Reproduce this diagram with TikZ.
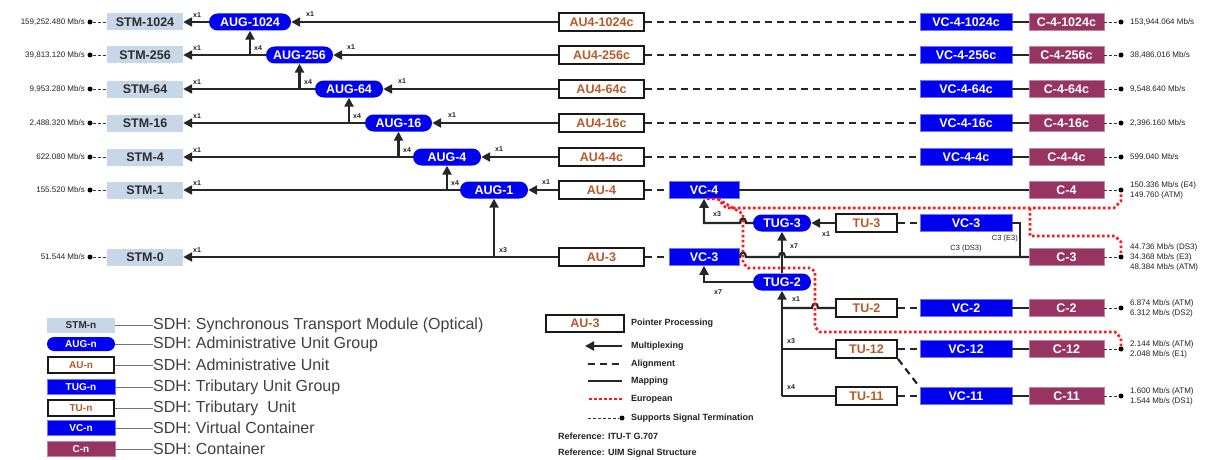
\documentclass[tikz,border=0pt]{standalone}
\usepackage{fontspec}
\setmainfont{Liberation Sans}
\usetikzlibrary{arrows.meta}
\definecolor{stmfill}{HTML}{C8D7E8}
\definecolor{stmtext}{HTML}{2B2B2B}
\definecolor{sdhblue}{HTML}{0000F0}
\definecolor{auor}{HTML}{B85A28}
\definecolor{cmar}{HTML}{983462}
\definecolor{eured}{HTML}{FF1A1A}
\definecolor{lbl}{HTML}{222222}
\definecolor{legt}{HTML}{404040}
\begin{document}
\begin{tikzpicture}[x=1pt,y=-1pt,
  sdhnode/.style={inner sep=0pt, font=\fontsize{12.5}{14}\selectfont\bfseries, minimum height=17pt},
  stmbox/.style={sdhnode, fill=stmfill, text=stmtext, minimum width=76pt},
  augbox/.style={sdhnode, fill=sdhblue, text=white, rounded corners=8.5pt, minimum width=#1},
  augbox/.default=68pt,
  aubox/.style={sdhnode, draw=black!90, line width=2pt, fill=white, text=auor, minimum width=85pt, minimum height=18pt},
  vcbox/.style={sdhnode, fill=sdhblue, draw=blue!55!white, line width=0.6pt, text=white, minimum width=92pt},
  cbox/.style={sdhnode, fill=cmar, draw=cmar!60!white, line width=0.6pt, text=white, minimum width=75pt},
  mux/.style={line width=2.4pt, draw=black!85, -{Triangle[length=9pt,width=9pt]}},
  mapl/.style={line width=2.2pt, draw=black!85},
  alig/.style={line width=2.2pt, draw=black!85, dash pattern=on 7pt off 5pt},
  term/.style={line width=0.9pt, draw=black!80, dash pattern=on 3pt off 2pt},
  eur/.style={line width=2.6pt, draw=eured, dash pattern=on 2.6pt off 2.4pt, line join=round},
  mlab/.style={font=\fontsize{7}{8}\selectfont\bfseries, text=lbl, inner sep=0pt},
  rate/.style={font=\fontsize{8}{10}\selectfont, text=lbl, inner sep=0pt, align=left},
  tdot/.style={circle, fill=black, inner sep=0pt, minimum size=5pt},
  legsmall/.style={font=\fontsize{10}{12}\selectfont\bfseries, minimum width=68pt, minimum height=15pt},
  legtxt/.style={anchor=west, inner sep=0pt, font=\fontsize{16}{18}\selectfont, text=legt},
  legline/.style={line width=1pt, draw=black!55},
  ltxt/.style={anchor=west, inner sep=0pt, font=\fontsize{9}{11}\selectfont\bfseries, text=lbl}
]
\fill[white] (0,0) rectangle (1217,460);
\useasboundingbox (0,0) rectangle (1217,460);

% ---------- STM boxes
\node[stmbox] (stm1024) at (145,22) {STM-1024};
\node[stmbox] (stm256) at (145,55) {STM-256};
\node[stmbox] (stm64) at (145,89) {STM-64};
\node[stmbox] (stm16) at (145,123) {STM-16};
\node[stmbox] (stm4) at (145,157) {STM-4};
\node[stmbox] (stm1) at (145,190) {STM-1};
\node[stmbox] (stm0) at (145,257) {STM-0};

% ---------- AUGs
\node[augbox=82pt] (aug1024) at (250,22) {AUG-1024};
\node[augbox=67pt] (aug256) at (299.5,55) {AUG-256};
\node[augbox=68pt] (aug64) at (349,89) {AUG-64};
\node[augbox=67pt] (aug16) at (398.5,123) {AUG-16};
\node[augbox=68pt] (aug4) at (447,157) {AUG-4};
\node[augbox=68pt] (aug1) at (494,190) {AUG-1};

% ---------- AUs
\node[aubox] (au1024c) at (601.5,22) {AU4-1024c};
\node[aubox] (au256c) at (601.5,55) {AU4-256c};
\node[aubox] (au64c) at (601.5,89) {AU4-64c};
\node[aubox] (au16c) at (601.5,123) {AU4-16c};
\node[aubox] (au4c) at (601.5,157) {AU4-4c};
\node[aubox] (au4) at (601.5,190) {AU-4};
\node[aubox] (au3) at (601.5,257) {AU-3};

% ---------- VCs and Cs
\node[vcbox] (vc1024c) at (966,22) {VC-4-1024c};
\node[vcbox] (vc256c) at (966,55) {VC-4-256c};
\node[vcbox] (vc64c) at (966,89) {VC-4-64c};
\node[vcbox] (vc16c) at (966,123) {VC-4-16c};
\node[vcbox] (vc4c) at (966,157) {VC-4-4c};
\node[cbox] (c1024c) at (1066.5,22) {C-4-1024c};
\node[cbox] (c256c) at (1066.5,55) {C-4-256c};
\node[cbox] (c64c) at (1066.5,89) {C-4-64c};
\node[cbox] (c16c) at (1066.5,123) {C-4-16c};
\node[cbox] (c4c) at (1066.5,157) {C-4-4c};

\node[vcbox, minimum width=70pt] (vc4) at (704,190) {VC-4};
\node[cbox] (c4) at (1066.5,190) {C-4};
\node[vcbox, minimum width=70pt] (vc3l) at (704,257) {VC-3};
\node[cbox] (c3) at (1066.5,257) {C-3};

\node[augbox=58pt] (tug3) at (782,223) {TUG-3};
\node[aubox, minimum width=61pt] (tu3) at (866.5,223) {TU-3};
\node[vcbox] (vc3u) at (966,223) {VC-3};

\node[augbox=58pt] (tug2) at (782,282) {TUG-2};
\node[aubox, minimum width=61pt] (tu2) at (866.5,308) {TU-2};
\node[vcbox] (vc2) at (966,308) {VC-2};
\node[cbox] (c2) at (1066.5,308) {C-2};
\node[aubox, minimum width=61pt] (tu12) at (866.5,349) {TU-12};
\node[vcbox] (vc12) at (966,349) {VC-12};
\node[cbox] (c12) at (1066.5,349) {C-12};
\node[aubox, minimum width=61pt] (tu11) at (866.5,396) {TU-11};
\node[vcbox] (vc11) at (966,396) {VC-11};
\node[cbox] (c11) at (1066.5,396) {C-11};

% ---------- STM <- AUG arrows
\draw[mux] (aug1024.west) -- (stm1024.east);
\draw[mux] (aug256.west) -- (stm256.east);
\draw[mux] (aug64.west) -- (stm64.east);
\draw[mux] (aug16.west) -- (stm16.east);
\draw[mux] (aug4.west) -- (stm4.east);
\draw[mux] (aug1.west) -- (stm1.east);
\draw[mux] (au3.west) -- (stm0.east);
\foreach \yy in {22,55,89,123,157,190,257} \node[mlab] at (197,\yy-7) {x1};

% ---------- AUG <- AU arrows
\draw[mux] (au1024c.west) -- (aug1024.east);
\draw[mux] (au256c.west) -- (aug256.east);
\draw[mux] (au64c.west) -- (aug64.east);
\draw[mux] (au16c.west) -- (aug16.east);
\draw[mux] (au4c.west) -- (aug4.east);
\draw[mux] (au4.west) -- (aug1.east);
\node[mlab] at (310,14) {x1};
\node[mlab] at (351,47) {x1};
\node[mlab] at (402,81) {x1};
\node[mlab] at (452,115) {x1};
\node[mlab] at (499,149) {x1};
\node[mlab] at (546,182) {x1};

% ---------- vertical x4 / x3
\draw[mux] (aug1024.south |- stm256.center) -- (aug1024.south);
\draw[mux] (aug256.south |- stm64.center) -- (aug256.south);
\draw[mux] (aug64.south |- stm16.center) -- (aug64.south);
\draw[mux] (aug16.south |- stm4.center) -- (aug16.south);
\draw[mux] (aug4.south |- stm1.center) -- (aug4.south);
\draw[mux] (aug1.south |- stm0.center) -- (aug1.south);
\node[mlab] at (258,48) {x4};
\node[mlab] at (308,82) {x4};
\node[mlab] at (357,116) {x4};
\node[mlab] at (407,150) {x4};
\node[mlab] at (455,183) {x4};
\node[mlab] at (503,250) {x3};

% ---------- alignment / mapping
\draw[alig] (au1024c.east) -- (vc1024c.west);
\draw[alig] (au256c.east) -- (vc256c.west);
\draw[alig] (au64c.east) -- (vc64c.west);
\draw[alig] (au16c.east) -- (vc16c.west);
\draw[alig] (au4c.east) -- (vc4c.west);
\draw[alig] (au4.east) -- (vc4.west);
\draw[alig] (au3.east) -- (vc3l.west);
\draw[alig] (tu3.east) -- (vc3u.west);
\draw[alig] (tu2.east) -- (vc2.west);
\draw[alig] (tu12.east) -- (vc12.west);
\draw[alig] (tu11.east) -- (vc11.west);
\draw[alig] (tu12.south east) -- (vc11.north west);
\draw[mapl] (vc1024c.east) -- (c1024c.west);
\draw[mapl] (vc256c.east) -- (c256c.west);
\draw[mapl] (vc64c.east) -- (c64c.west);
\draw[mapl] (vc16c.east) -- (c16c.west);
\draw[mapl] (vc4c.east) -- (c4c.west);
\draw[mapl] (vc4.east) -- (c4.west);
\draw[mapl] (vc2.east) -- (c2.west);
\draw[mapl] (vc12.east) -- (c12.west);
\draw[mapl] (vc11.east) -- (c11.west);
\draw[mapl] (vc3l.east) -- (740,257) .. controls (740,251) and (746,251) .. (746,257)
   -- (779,257) .. controls (779,251) and (785,251) .. (785,257) -- (c3.west);
\draw[mapl] (vc3u.east) -- (1020,223) -- (1020,257) -- (c3.west);
\node[mlab, font=\fontsize{7.5}{9}\selectfont, anchor=east] at (1018,239) {C3 (E3)};
\node[mlab, font=\fontsize{7.5}{9}\selectfont] at (966,249) {C3 (DS3)};

% ---------- TUG structure
\draw[mux] (tu3.west) -- (tug3.east);
\node[mlab] at (826,234) {x1};
\draw[mux] (tug3.west) -- (746,223) .. controls (746,217) and (740,217) .. (740,223)
   -- (vc4.south |- tug3.west) -- (vc4.south);
\node[mlab] at (717,214) {x3};
\draw[mux] (tug2.west) -- (vc3l.south |- tug2.west) -- (vc3l.south);
\node[mlab] at (718,292) {x7};
\draw[mux] (tug2.north) -- (tug3.south);
\node[mlab] at (794,246) {x7};
\draw[mux] (tug2.south |- tu11.west) -- (tug2.south);
\draw[mapl] (tug2.south |- tu2.west) -- (812,308) .. controls (812,302) and (818,302) .. (818,308) -- (tu2.west);
\draw[mapl] (tug2.south |- tu12.west) -- (tu12.west);
\draw[mapl] (tug2.south |- tu11.west) -- (tu11.west);
\node[mlab] at (796,299) {x1};
\node[mlab] at (791,341) {x3};
\node[mlab] at (791,387) {x4};

% ---------- termination (left)
\foreach \nm/\yy/\txt in {1024/22/{159,252.480 Mb/s},256/55/{39,813.120 Mb/s},64/89/{9,953.280 Mb/s},16/123/{2,488.320 Mb/s},4/157/{622.080 Mb/s},1/190/{155.520 Mb/s},0/257/{51.544 Mb/s}}{
  \node[tdot] (ld\nm) at (90,\yy) {};
  \draw[term] (ld\nm) -- (stm\nm.west);
  \node[rate, anchor=east] at (85,\yy) {\txt};
}

% ---------- termination (right)
\foreach \nm/\yy/\txt in {1024c/22/{153,944.064 Mb/s},256c/55/{38,486.016 Mb/s},64c/89/{9,548.640 Mb/s},16c/123/{2,396.160 Mb/s},4c/157/{599.040 Mb/s},4/190/{150.336 Mb/s (E4)\\149.760 (ATM)},3/257/{44.736 Mb/s (DS3)\\34.368 Mb/s (E3)\\48.384 Mb/s (ATM)},2/308/{6.874 Mb/s (ATM)\\6.312 Mb/s (DS2)},12/349/{2.144 Mb/s (ATM)\\2.048 Mb/s (E1)},11/396/{1.600 Mb/s (ATM)\\1.544 Mb/s (DS1)}}{
  \node[tdot] (rd\nm) at (1121,\yy) {};
  \draw[term] (c\nm.east) -- (rd\nm);
  \node[rate, anchor=west] at (1130,\yy) {\txt};
}

% ---------- European paths
\draw[eur] (vc4.south -| 707,0) -- (718,199) -- (726,208) -- (1114,208) -- (1121,201) -- (rd4.south);
\draw[eur] (718,199) -- (743,214) -- (743,263) -- (748,268) -- (811,268) -- (815,272)
   -- (815,327) -- (820,332) -- (1115,332) -- (1121,338) -- (rd12.north);
\draw[eur] (1030,208) -- (1030,236) -- (1115,236) -- (1121,242) -- (rd3.north);

% ---------- Legend 1
\node[stmbox, legsmall] (lstm) at (81,325) {STM-n};
\node[augbox=68pt, legsmall, minimum height=14pt, rounded corners=7pt] (laug) at (81,344) {AUG-n};
\node[aubox, legsmall, minimum width=66pt, minimum height=16pt] (lau) at (81,365) {AU-n};
\node[vcbox, legsmall] (ltug) at (81,387) {TUG-n};
\node[aubox, legsmall, minimum width=66pt, minimum height=16pt] (ltu) at (81,408) {TU-n};
\node[vcbox, legsmall] (lvc) at (81,428) {VC-n};
\node[cbox, legsmall] (lc) at (81,449) {C-n};
\node[legtxt] (tstm) at (153,325) {SDH: Synchronous Transport Module (Optical)};
\node[legtxt] (taug) at (153,344) {SDH: Administrative Unit Group};
\node[legtxt] (tau) at (153,365) {SDH: Administrative Unit};
\node[legtxt] (ttug) at (153,387) {SDH: Tributary Unit Group};
\node[legtxt] (ttu) at (153,408) {SDH: Tributary\ \ Unit};
\node[legtxt] (tvc) at (153,428) {SDH: Virtual Container};
\node[legtxt] (tc) at (153,449) {SDH: Container};
\foreach \a/\b in {lstm/tstm,laug/taug,lau/tau,ltug/ttug,ltu/ttu,lvc/tvc,lc/tc}
  \draw[legline] (\a.east) -- (\b.west);

% ---------- Legend 2
\node[aubox, minimum width=78pt, minimum height=17pt] (lau3) at (585,323) {AU-3};
\node[ltxt] (tpp) at (631,323) {Pointer Processing};
\coordinate (lm1) at (622,346); \coordinate (lm2) at (585,346);
\draw[mux] (lm1) -- (lm2);
\node[ltxt] (tmx) at (631,346) {Multiplexing};
\coordinate (la1) at (588,364); \coordinate (la2) at (622,364);
\draw[alig] (la1) -- (la2);
\node[ltxt] (tal) at (631,364) {Alignment};
\coordinate (lp1) at (588,381); \coordinate (lp2) at (622,381);
\draw[mapl] (lp1) -- (lp2);
\node[ltxt] (tmp) at (631,381) {Mapping};
\coordinate (le1) at (589,399); \coordinate (le2) at (622,399);
\draw[eur] (le1) -- (le2);
\node[ltxt] (teu) at (631,399) {European};
\node[tdot] (ltd) at (622,418) {};
\coordinate (lt1) at (588,418);
\draw[term] (lt1) -- (ltd);
\node[ltxt] (tst) at (631,418) {Supports Signal Termination};
\node[ltxt] (tr1) at (558,436) {Reference: ITU-T G.707};
\node[ltxt] (tr2) at (558,453) {Reference: UIM Signal Structure};
\end{tikzpicture}
\end{document}
